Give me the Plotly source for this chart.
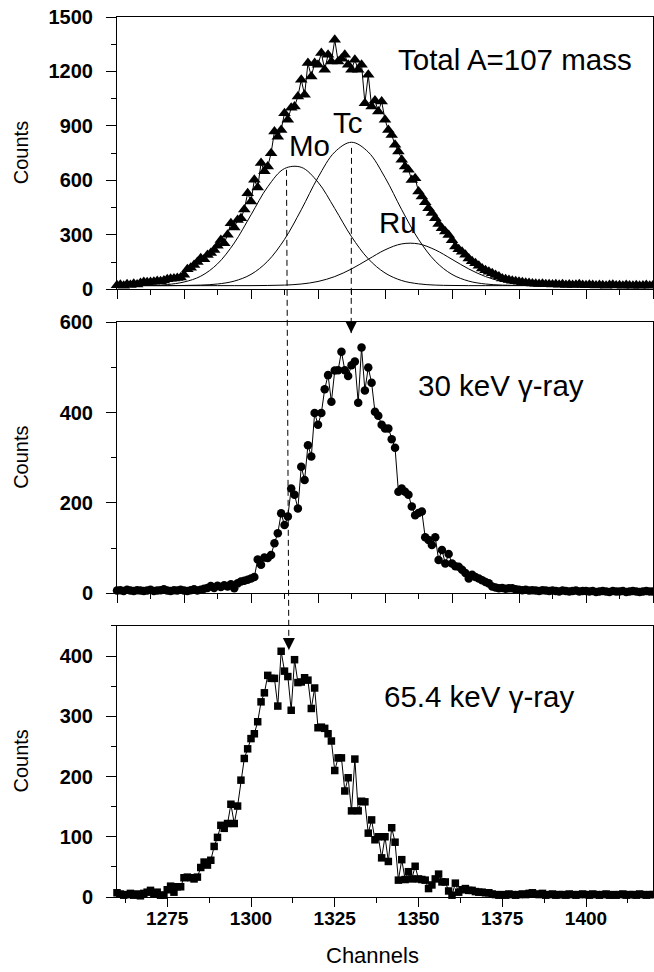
import plotly.graph_objects as go

# channel numbers (one point per channel)
channels = list(range(1260, 1421))

# total A=107 mass spectrum (triangles)
total_counts = [
    22, 25, 20, 28, 24, 30, 26, 35, 40, 38,
    40, 42, 45, 44, 48, 55, 58, 60, 62, 65,
    80, 110, 118, 134, 150, 171, 165, 189, 200, 217,
    240, 272, 254, 300, 364, 340, 382, 391, 440, 529,
    483, 603, 560, 695, 650, 676, 750, 869, 840, 878,
    970, 934, 1000, 1007, 1062, 1154, 1071, 1246, 1172, 1246,
    1237, 1301, 1209, 1292, 1255, 1375, 1255, 1270, 1292, 1237,
    1209, 1264, 1209, 1237, 1025, 1182, 1007, 1040, 980, 1035,
    934, 878, 850, 796, 759, 713, 676, 658, 602, 612,
    538, 511, 480, 446, 420, 391, 360, 336, 318, 299,
    270, 235, 220, 207, 190, 170, 155, 143, 130, 115,
    105, 97, 88, 79, 70, 60, 55, 51, 47, 44,
    42, 38, 36, 34, 32, 30, 29, 31, 27, 28,
    26, 27, 25, 28, 24, 26, 23, 25, 27, 24,
    22, 25, 23, 21, 24, 22, 20, 23, 25, 21,
    22, 20, 23, 21, 19, 22, 20, 21, 23, 20, 22,
]

# 30 keV gamma-ray gated spectrum (circles)
gamma30_counts = [
    6, 7, 5, 8, 6, 5, 7, 6, 5, 6,
    8, 5, 6, 7, 9, 6, 5, 7, 6, 8,
    6, 5, 7, 9, 6, 8, 10, 12, 16, 12,
    17, 14, 18, 15, 20, 11, 22, 26, 28, 30,
    33, 36, 75, 63, 79, 78, 85, 111, 133, 177,
    151, 170, 232, 218, 188, 280, 251, 328, 303, 399,
    373, 399, 452, 483, 424, 493, 494, 535, 494, 481,
    505, 513, 422, 544, 449, 500, 466, 402, 393, 373,
    365, 365, 341, 322, 225, 232, 225, 218, 192, 173,
    178, 181, 124, 118, 107, 124, 74, 96, 66, 87,
    66, 60, 59, 52, 45, 33, 41, 36, 33, 29,
    25, 22, 15, 13, 11, 12, 10, 11, 11, 9,
    8, 7, 8, 6, 7, 6, 5, 7, 6, 5,
    6, 5, 4, 6, 5, 4, 5, 6, 4, 5,
    5, 4, 5, 3, 4, 5, 4, 3, 5, 4,
    4, 5, 3, 4, 5, 4, 3, 4, 5, 4, 4,
]

# 65.4 keV gamma-ray gated spectrum (squares)
gamma65_counts = [
    7, 5, 3, 4, 6, 3, 5, 2, 6, 8,
    11, 6, 8, 3, 3, 12, 18, 8, 17, 17,
    32, 33, 32, 30, 33, 49, 58, 53, 61, 84,
    99, 119, 114, 122, 154, 122, 151, 194, 230, 246,
    263, 271, 291, 324, 339, 368, 363, 363, 317, 408,
    375, 366, 310, 394, 356, 357, 364, 360, 313, 347,
    281, 282, 280, 271, 259, 210, 231, 231, 176, 198,
    143, 229, 143, 159, 158, 106, 128, 95, 100, 65,
    100, 59, 115, 91, 28, 62, 29, 42, 30, 51,
    30, 29, 28, 14, 20, 30, 38, 25, 25, 10,
    3, 23, 8, 12, 14, 11, 11, 9, 8, 8,
    7, 7, 5, 4, 3, 4, 3, 5, 4, 3,
    4, 5, 4, 6, 7, 5, 4, 6, 3, 4,
    5, 3, 4, 4, 3, 5, 4, 3, 4, 5,
    4, 3, 5, 4, 3, 4, 5, 3, 4, 3,
    4, 5, 3, 4, 4, 3, 5, 4, 3, 4, 4,
]

fit_channels = list(range(1260, 1421, 5))
mo_fit = [20, 20, 21, 26, 40, 72, 140, 255, 410, 565, 665, 672, 590, 445, 290, 168, 90,
          48, 30, 23, 21, 20, 20, 20, 20, 20, 20, 20, 20, 20, 20, 20, 20]
tc_fit = [20, 20, 20, 20, 21, 23, 29, 45, 82, 155, 275, 438, 616, 756, 810, 756, 616,
          438, 275, 155, 82, 45, 29, 23, 21, 20, 20, 20, 20, 20, 20, 20, 20]
ru_fit = [20, 20, 20, 20, 20, 20, 20, 20, 20, 21, 23, 29, 43, 70, 112, 165, 217,
          250, 250, 217, 165, 112, 70, 43, 29, 23, 21, 20, 20, 20, 20, 20, 20]

# dashed guide lines: (channel at top, channel at bottom, start count, arrow tip count)
mo_guide = (1310.6, 1311.3, 658, 410)
tc_guide = (1330.0, 1329.9, 779, 576)

FONT = "Liberation Sans, Arial, sans-serif"
X_RANGE = [1260, 1420]
DOMAINS = [[0.6906, 1.0], [0.3451, 0.6531], [0.0, 0.308]]
Y_RANGES = [[0, 1500], [0, 600], [0, 450]]
Y_DTICK = [300, 200, 100]

fig = go.Figure()

line = dict(color="black", width=1)
for name, ys in [("Mo", mo_fit), ("Tc", tc_fit), ("Ru", ru_fit)]:
    fig.add_trace(go.Scatter(x=fit_channels, y=ys, mode="lines", name=name,
                             line=dict(color="black", width=1, shape="spline"),
                             xaxis="x", yaxis="y"))

series = [
    (total_counts, "triangle-up", 11, "x", "y"),
    (gamma30_counts, "circle", 8.5, "x2", "y2"),
    (gamma65_counts, "square", 7.5, "x3", "y3"),
]
for ys, sym, size, xa, ya in series:
    fig.add_trace(go.Scatter(x=channels, y=ys, mode="lines+markers", line=line,
                             marker=dict(symbol=sym, size=size, color="black"),
                             cliponaxis=False, xaxis=xa, yaxis=ya))

tickfont = dict(family=FONT, size=20, color="black", weight="bold")
layout = dict(width=654, height=972, showlegend=False,
              margin=dict(l=117, r=1, t=17, b=75, autoexpand=False),
              plot_bgcolor="white", paper_bgcolor="white",
              font=dict(family=FONT, color="black"))

for i in range(3):
    n = "" if i == 0 else str(i + 1)
    bottom = i == 2
    xdtick, xminor, xtick0 = (25, 12.5, 1250) if bottom else (20, 10, 1260)
    layout["xaxis" + n] = dict(
        domain=[0, 1], anchor="y" + n, range=X_RANGE, showgrid=False, zeroline=False,
        showline=True, linecolor="black", linewidth=1, mirror=True, automargin=False,
        ticks="outside", ticklen=9, tickcolor="black", tick0=xtick0, dtick=xdtick,
        minor=dict(ticks="outside", ticklen=5, tickcolor="black", dtick=xminor, tick0=xtick0),
        showticklabels=bottom, tickfont=dict(tickfont, size=19), ticklabelstandoff=-5)
    layout["yaxis" + n] = dict(
        domain=DOMAINS[i], anchor="x" + n, range=Y_RANGES[i], showgrid=False, zeroline=False,
        showline=True, linecolor="black", linewidth=1, mirror=True, automargin=False,
        ticks="outside", ticklen=10, tickcolor="black", dtick=Y_DTICK[i],
        minor=dict(ticks="outside", ticklen=5, tickcolor="black", dtick=Y_DTICK[i] / 2),
        tickfont=tickfont, ticklabelstandoff=9)
    # mirrored ticks pointing inward
    layout["xaxis" + str(i + 4)] = dict(
        overlaying="x" + n, anchor="y" + n, side="top", range=X_RANGE, automargin=False,
        showgrid=False, zeroline=False, showline=False, showticklabels=False,
        ticks="inside", ticklen=9, tickcolor="black", tick0=xtick0, dtick=xdtick,
        minor=dict(ticks="inside", ticklen=5, tickcolor="black", dtick=xminor, tick0=xtick0))
    layout["yaxis" + str(i + 4)] = dict(
        overlaying="y" + n, anchor="x" + n, side="right", range=Y_RANGES[i], automargin=False,
        showgrid=False, zeroline=False, showline=False, showticklabels=False,
        ticks="inside", ticklen=10, tickcolor="black", dtick=Y_DTICK[i],
        minor=dict(ticks="inside", ticklen=5, tickcolor="black", dtick=Y_DTICK[i] / 2))

fig.update_layout(**layout)


def to_paper(value, panel):
    lo, hi = Y_RANGES[panel]
    d0, d1 = DOMAINS[panel]
    return d0 + (value - lo) / (hi - lo) * (d1 - d0)


guides = [(mo_guide, 2, "x3", "y3"), (tc_guide, 1, "x2", "y2")]
for (x_top, x_bot, y_start, y_tip), end_panel, xa, ya in guides:
    fig.add_shape(type="line", xref="x", yref="paper",
                  x0=x_top, y0=to_paper(y_start, 0), x1=x_bot, y1=to_paper(y_tip, end_panel),
                  line=dict(color="black", width=1, dash="6px,4px"))
    fig.add_annotation(x=x_bot, y=y_tip, xref=xa, yref=ya, text="", showarrow=True,
                       ax=0, ay=-13, arrowhead=2, arrowsize=2.4, arrowwidth=1,
                       arrowcolor="black")

labels = [
    ("Total A=107 mass", 1378.8, 1265, "x", "y"),
    ("Mo", 1317.6, 790, "x", "y"),
    ("Tc", 1329.1, 917, "x", "y"),
    ("Ru", 1344.0, 368, "x", "y"),
    ("30 keV γ-ray", 1374.6, 459, "x2", "y2"),
    ("65.4 keV γ-ray", 1368.1, 333, "x3", "y3"),
]
for text, x, y, xa, ya in labels:
    fig.add_annotation(x=x, y=y, xref=xa, yref=ya, text=text, showarrow=False,
                       font=dict(family=FONT, size=29.5, color="black"))

for i in range(3):
    fig.add_annotation(x=-0.179, y=sum(DOMAINS[i]) / 2, xref="paper", yref="paper",
                       text="Counts", textangle=-90, showarrow=False,
                       xanchor="center", yanchor="middle",
                       font=dict(family=FONT, size=20, color="black"))
fig.add_annotation(x=0.476, y=-0.066, xref="paper", yref="paper", text="Channels",
                   showarrow=False, xanchor="center", yanchor="middle",
                   font=dict(family=FONT, size=22, color="black"))

# page body margin would shift the figure by a few pixels
fig.write_html("out.html", config={"displayModeBar": False},
               post_script="document.body.style.margin='0';")
